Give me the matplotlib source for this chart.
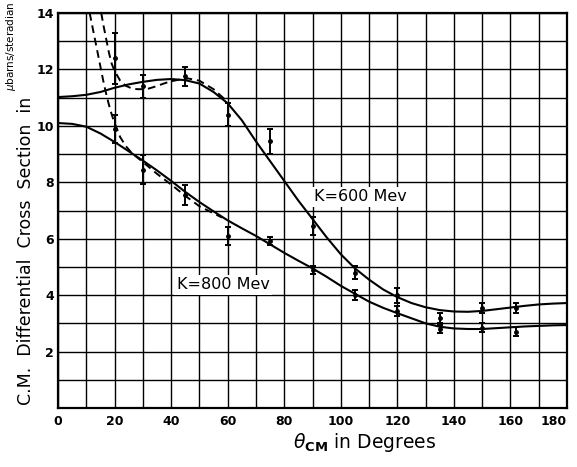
import matplotlib
matplotlib.use("Agg")
import matplotlib.pyplot as plt
import numpy as np

# --- data ---
# measured points (theta_cm in degrees), with half-length of the error bars
ang = [20, 30, 45, 60, 75, 90, 105, 120, 135, 150, 162]
k600 = [12.4, 11.4, 11.75, 10.4, 9.45, 6.45, 4.8, 4.0, 3.2, 3.55, 3.55]
k600_err = [0.9, 0.4, 0.35, 0.4, 0.45, 0.33, 0.23, 0.27, 0.17, 0.18, 0.18]
k800 = [9.9, 8.45, 7.55, 6.1, 5.92, 4.9, 4.02, 3.43, 2.8, 2.85, 2.7]
k800_err = [0.5, 0.5, 0.35, 0.33, 0.14, 0.15, 0.18, 0.17, 0.14, 0.15, 0.16]

# solid fit curves
fit_x = [0, 5, 10, 15, 20, 25, 30, 35, 40, 45, 50, 55, 60, 65, 70, 75, 80, 85, 90,
         95, 100, 105, 110, 115, 120, 125, 130, 135, 140, 145, 150, 155, 160, 165,
         170, 175, 180]
fit600 = [11.02, 11.05, 11.1, 11.2, 11.35, 11.47, 11.56, 11.63, 11.66, 11.62, 11.5,
          11.2, 10.8, 10.2, 9.45, 8.75, 8.05, 7.35, 6.7, 6.05, 5.45, 4.95, 4.55, 4.2,
          3.93, 3.72, 3.57, 3.47, 3.42, 3.41, 3.44, 3.5, 3.56, 3.62, 3.67, 3.7, 3.72]
fit800 = [10.1, 10.07, 9.97, 9.73, 9.43, 9.1, 8.77, 8.42, 8.05, 7.66, 7.3, 6.97,
          6.65, 6.37, 6.1, 5.8, 5.5, 5.22, 4.95, 4.65, 4.33, 4.05, 3.77, 3.55, 3.36,
          3.18, 3.0, 2.88, 2.82, 2.8, 2.8, 2.83, 2.86, 2.89, 2.91, 2.93, 2.94]

# dashed curves
dash600_x = [15.3, 16, 17, 18, 19, 20, 22, 24, 26, 28, 30, 32, 34, 36, 38, 40, 43,
             46, 50, 55, 60]
dash600 = [14.0, 13.6, 13.1, 12.6, 12.2, 11.95, 11.6, 11.42, 11.33, 11.3, 11.3,
           11.32, 11.38, 11.45, 11.52, 11.58, 11.64, 11.68, 11.6, 11.3, 10.85]
dash800_x = [11.2, 12, 13, 14, 15, 16, 17, 18, 19, 20, 22, 24, 26, 28, 30, 35, 40,
             45, 50, 55, 58]
dash800 = [14.0, 13.6, 13.1, 12.6, 12.1, 11.6, 11.15, 10.75, 10.4, 10.1, 9.6, 9.28,
           9.05, 8.88, 8.72, 8.3, 7.92, 7.52, 7.15, 6.9, 6.75]

fig = plt.figure(figsize=(5.77, 4.67), dpi=100)
ax = fig.add_axes([58/577, 59/467, 509/577, 395/467])

ax.plot(fit_x, fit600, color='k', lw=1.5)
ax.plot(fit_x, fit800, color='k', lw=1.5)
ax.plot(dash600_x, dash600, color='k', lw=1.4, ls=(0, (4, 2.5)))
ax.plot(dash800_x, dash800, color='k', lw=1.4, ls=(0, (4, 2.5)))

ax.errorbar(ang, k600, yerr=k600_err, fmt='o', ms=2.5, color='k', ecolor='k',
            elinewidth=1.4, capsize=2, capthick=1.4)
ax.errorbar(ang, k800, yerr=k800_err, fmt='o', ms=2.5, color='k', ecolor='k',
            elinewidth=1.4, capsize=2, capthick=1.4)

ax.set_xlim(0, 180)
ax.set_ylim(0, 14)
ax.set_xticks(np.arange(0, 181, 10))
ax.set_xticklabels([str(v) if v % 20 == 0 else '' for v in range(0, 181, 10)])
ax.set_yticks(np.arange(0, 15, 1))
ax.set_yticklabels([str(v) if v % 2 == 0 and v > 0 else '' for v in range(0, 15)])
ax.grid(True, color='k', lw=1.0)
ax.tick_params(length=0, labelsize=9)
ax.tick_params(axis='x', pad=5)
ax.tick_params(axis='y', pad=3)
for lab in ax.get_xticklabels() + ax.get_yticklabels():
    lab.set_fontweight('bold')
xl = ax.get_xticklabels()
xl[-1].set_horizontalalignment('right')
xl[-1].set_x(180)
for s in ax.spines.values():
    s.set_linewidth(1.6)

box = dict(facecolor='white', edgecolor='none', pad=2)
ax.text(90.5, 7.48, 'K=600 Mev', fontsize=11.5, va='center', ha='left', bbox=box)
ax.text(42, 4.36, 'K=800 Mev', fontsize=11.5, va='center', ha='left', bbox=box)

fig.text(365/577, (467 - 442)/467, r'$\theta_{\mathbf{CM}}$ in Degrees',
         fontsize=13.5, ha='center', va='center')

fig.text(26/577, (467 - 405)/467, 'C.M.  Differential  Cross  Section  in',
         rotation=90, fontsize=12.5, ha='center', va='bottom')
fig.text(11/577, (467 - 91)/467, r'$\mu$barns/steradian',
         rotation=90, fontsize=7.5, ha='center', va='bottom')

fig.savefig('out.png', dpi=100)
